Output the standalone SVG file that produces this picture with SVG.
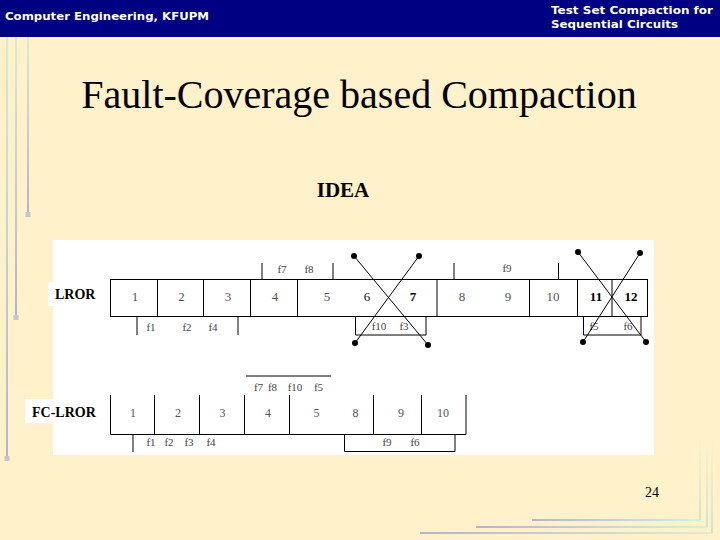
<svg xmlns="http://www.w3.org/2000/svg" width="720" height="540" viewBox="0 0 720 540">
  <defs>
    <linearGradient id="gv" x1="0" y1="0" x2="0" y2="1">
      <stop offset="0" stop-color="#d6ecd2"/>
      <stop offset="1" stop-color="#b4b4cc"/>
    </linearGradient>
    <linearGradient id="gh" x1="0" y1="0" x2="1" y2="0">
      <stop offset="0" stop-color="#b4b4cc"/>
      <stop offset="1" stop-color="#dcefd4"/>
    </linearGradient>
    <linearGradient id="gr" x1="0" y1="0" x2="0" y2="1">
      <stop offset="0" stop-color="#fff1c9"/>
      <stop offset="1" stop-color="#d0e4cc"/>
    </linearGradient>
    <style>
      .hdr { font-family: "DejaVu Sans", sans-serif; font-weight: bold; font-size: 11px; fill: #ffffff; }
      .num { font-family: "Liberation Serif", serif; font-size: 13px; fill: #555555; text-anchor: middle; }
      .num2 { font-family: "Liberation Serif", serif; font-size: 12px; fill: #555555; text-anchor: middle; }
      .dark { fill: #111111; }
      .bold { font-weight: bold; fill: #000000; }
      .flab { font-family: "Liberation Serif", serif; font-size: 11px; fill: #444444; text-anchor: middle; }
      .rowlab { font-family: "Liberation Serif", serif; font-size: 14px; font-weight: bold; fill: #000000; }
      .ln { stroke: #000000; stroke-width: 1; fill: none; }
      .dot { fill: #000000; }
      .vdeco { fill: url(#gv); }
      .hdeco { fill: url(#gh); }
      .rdeco { fill: url(#gr); }
      .knob { fill: #c4c4d2; }
    </style>
  </defs>

  <!-- background -->
  <rect x="0" y="0" width="720" height="540" fill="#fff1c9"/>

  <!-- header bar -->
  <g id="header">
    <rect x="0" y="0" width="720" height="37" fill="#000082"/>
    <text class="hdr" x="5" y="19.5" textLength="204" lengthAdjust="spacingAndGlyphs">Computer Engineering, KFUPM</text>
    <text class="hdr" x="551" y="14" textLength="162" lengthAdjust="spacingAndGlyphs">Test Set Compaction for</text>
    <text class="hdr" x="551" y="28" textLength="127" lengthAdjust="spacingAndGlyphs">Sequential Circuits</text>
  </g>

  <!-- decorative lines -->
  <g id="decoration">
    <rect class="vdeco" x="6" y="37" width="2" height="421"/>
    <rect class="vdeco" x="15" y="37" width="2" height="280"/>
    <rect class="vdeco" x="27" y="37" width="2" height="177"/>
    <rect class="knob" x="4.5" y="456" width="5" height="5"/>
    <rect class="knob" x="13.5" y="315" width="5" height="5"/>
    <rect class="knob" x="25.5" y="212" width="5" height="5"/>
    <rect class="hdeco" x="532" y="519" width="168" height="2"/>
    <rect class="hdeco" x="476" y="526" width="231" height="2"/>
    <rect class="hdeco" x="420" y="532" width="292" height="2"/>
    <rect class="rdeco" x="699" y="440" width="2" height="80"/>
    <rect class="rdeco" x="706" y="440" width="2" height="87"/>
    <rect class="rdeco" x="711" y="440" width="2" height="93"/>
  </g>

  <!-- titles -->
  <text x="359" y="108" font-family="'Liberation Serif', serif" font-size="40" text-anchor="middle" fill="#000000">Fault-Coverage based Compaction</text>
  <text x="343" y="197" font-family="'Liberation Serif', serif" font-size="21" font-weight="bold" text-anchor="middle" fill="#000000">IDEA</text>

  <!-- white panel -->
  <rect x="53" y="240" width="601" height="215" fill="#ffffff"/>
  <rect x="48" y="282" width="52" height="24" fill="#ffffff"/>
  <rect x="25" y="399" width="75" height="24" fill="#ffffff"/>

  <!-- LROR row -->
  <g id="lror">
    <text class="rowlab" x="55" y="299">LROR</text>
    <rect class="ln" x="110.5" y="279.5" width="537" height="37"/>
    <path class="ln" d="M157.5 279.5V316.5M203.5 279.5V316.5M250.5 279.5V316.5M297.5 279.5V316.5M437 279.5V316.5M529.5 279.5V316.5M577.5 279.5V316.5M612 279.5V316.5"/>
    <text class="num" x="135" y="301">1</text>
    <text class="num" x="181.5" y="301">2</text>
    <text class="num" x="228" y="301">3</text>
    <text class="num" x="275" y="301">4</text>
    <text class="num" x="327" y="301">5</text>
    <text class="num dark" x="367" y="301">6</text>
    <text class="num bold" x="413" y="301">7</text>
    <text class="num" x="462" y="301">8</text>
    <text class="num" x="508" y="301">9</text>
    <text class="num" x="553" y="301">10</text>
    <text class="num bold" x="596" y="301">11</text>
    <text class="num bold" x="631" y="301">12</text>
  </g>

  <g id="lror-faults">
    <path class="ln" d="M262 263V279.5M333 263V279.5"/>
    <text class="flab" x="282" y="273">f7</text>
    <text class="flab" x="309" y="273">f8</text>
    <path class="ln" d="M454 263V279.5M558.5 263V279.5"/>
    <text class="flab" x="507" y="272">f9</text>
    <path class="ln" d="M137 316.5V335M238 316.5V335"/>
    <text class="flab" x="151" y="331">f1</text>
    <text class="flab" x="187" y="331">f2</text>
    <text class="flab" x="213" y="331">f4</text>
    <path class="ln" d="M355.5 316.5V335H426V316.5"/>
    <text class="flab" x="379" y="330">f10</text>
    <text class="flab" x="404" y="330">f3</text>
    <path class="ln" d="M583.5 316.5V335H641V316.5"/>
    <text class="flab" x="594" y="330">f5</text>
    <text class="flab" x="628" y="330">f6</text>
  </g>

  <!-- connectors: crossing-out marks -->
  <g id="connectors">
    <line class="ln" x1="354" y1="256" x2="428" y2="345"/>
    <line class="ln" x1="419" y1="256" x2="355" y2="343"/>
    <line class="ln" x1="578" y1="252" x2="646" y2="342"/>
    <line class="ln" x1="640" y1="253" x2="583" y2="342"/>
    <circle class="dot" cx="354" cy="256" r="3"/>
    <circle class="dot" cx="428" cy="345" r="3"/>
    <circle class="dot" cx="419" cy="256" r="3"/>
    <circle class="dot" cx="355" cy="343" r="3"/>
    <circle class="dot" cx="578" cy="252" r="3"/>
    <circle class="dot" cx="646" cy="342" r="3"/>
    <circle class="dot" cx="640" cy="253" r="3"/>
    <circle class="dot" cx="583" cy="342" r="3"/>
  </g>

  <!-- FC-LROR row -->
  <g id="fc-lror">
    <text class="rowlab" x="32" y="417">FC-LROR</text>
    <path class="ln" d="M110.5 395V434.5H466V395"/>
    <path class="ln" d="M154.5 395V434.5M199.5 395V434.5M244.5 395V434.5M289.5 395V434.5M373.5 395V434.5M421.5 395V434.5"/>
    <text class="num2" x="133" y="417">1</text>
    <text class="num2" x="178" y="417">2</text>
    <text class="num2" x="222.5" y="417">3</text>
    <text class="num2" x="268" y="417">4</text>
    <text class="num2" x="316.5" y="417">5</text>
    <text class="num2" x="355.5" y="417">8</text>
    <text class="num2" x="401" y="417">9</text>
    <text class="num2" x="443" y="417">10</text>
  </g>

  <g id="fc-lror-faults">
    <path class="ln" d="M246 376H331"/>
    <text class="flab" x="258.5" y="391">f7</text>
    <text class="flab" x="272.5" y="391">f8</text>
    <text class="flab" x="295" y="391">f10</text>
    <text class="flab" x="318.5" y="391">f5</text>
    <path class="ln" d="M133 434.5V452"/>
    <text class="flab" x="151" y="446">f1</text>
    <text class="flab" x="169" y="446">f2</text>
    <text class="flab" x="189" y="446">f3</text>
    <text class="flab" x="211" y="446">f4</text>
    <path class="ln" d="M344.5 434.5V451.5H455V434.5"/>
    <text class="flab" x="387" y="446">f9</text>
    <text class="flab" x="415" y="446">f6</text>
  </g>

  <!-- page number -->
  <text x="652" y="497" font-family="'Liberation Serif', serif" font-size="14" text-anchor="middle" fill="#000000">24</text>
</svg>
